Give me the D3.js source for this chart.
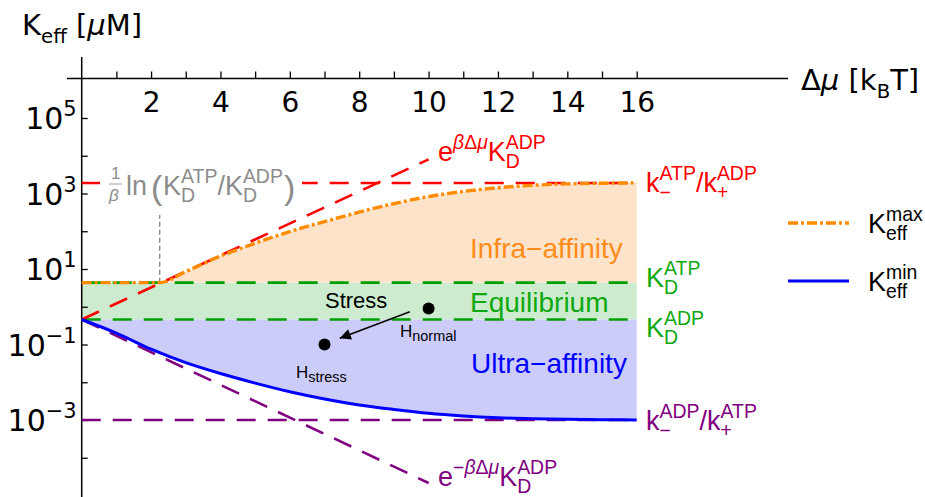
<!DOCTYPE html>
<html>
<head>
<meta charset="utf-8">
<script src="https://cdn.jsdelivr.net/npm/d3@7"></script>
<style>
  body { margin: 0; background: #fff; }
  svg { display: block; }
  text { white-space: pre; }
  .tick line { stroke: #000; stroke-width: 1.3; }
  .domain { display: none; }
</style>
</head>
<body>
<div id="box"></div>
<script>
// Δμ in kBT, K in μM
const xTicksMajor = [2, 4, 6, 8, 10, 12, 14, 16];
const xTicksMinor = [1, 3, 5, 7, 9, 11, 13, 15];
const yTickExp = [-4, -3, -2, -1, 0, 1, 2, 3, 4, 5];
const yLabelExp = [-3, -1, 1, 3, 5];

const KD_ADP = 0.46;
const KD_ATP = 4.35;
const kRatioMax = 1900;   // k-ATP / k+ADP
const kRatioMin = 0.001;  // k-ADP / k+ATP
const dmuKink = 2.25;

const expUp = [[0, 0.46], [10, 8000]];
const expDown = [[0, 0.46], [10, 0.0000215]];

const kmaxDmu = [0, 2.25, 3, 4, 5, 6, 7, 8, 9, 10, 11, 12, 13, 14, 15, 16];
const kmaxVal = [4.35, 4.35, 8.5, 22, 48, 98, 180, 320, 540, 830, 1130, 1420, 1650, 1800, 1870, 1920];

const kminDmu = [0, 1, 2, 3, 4, 5, 6, 7, 8, 9, 10, 11, 12, 13, 14, 15, 16];
const kminVal = [0.46, 0.2, 0.075, 0.033, 0.017, 0.0095, 0.0056, 0.0036, 0.0025, 0.0019, 0.0015, 0.00128, 0.00115, 0.00108, 0.00104, 0.00102, 0.001];

const hPoints = [[10, 0.9], [7, 0.1]];
const arrowPts = [[9.46, 0.74], [7.44, 0.146]];

const W = 925, H = 497;
const svg = d3.select('#box').append('svg').attr('width', W).attr('height', H);

const x = d3.scaleLinear().domain([0, 16]).range([81.7, 636.7]);
const y = d3.scaleLog().domain([1e-5, 1e6]).range([495.5, 80.25]);
const axisY = 78.5;

const C = {
  red: '#ff0000', green: '#00a000', greenText: '#10a810', purple: '#800080',
  orange: '#ff8c00', orangeText: '#ff8c1a', blue: '#0000ff', gray: '#8c8c8c',
  fillO: '#fde3c9', fillG: '#cdeccf', fillB: '#ccccfa'
};

// rich text: parts = {t, i} or {sup:[...], sub:[...]}
function run(g, x0, yb, pieces, size) {
  let cx = x0;
  pieces.forEach(p => {
    const t = g.append('text').attr('x', cx).attr('y', yb)
      .style('font-size', size + 'px').text(p.t);
    if (p.i) t.style('font-style', 'italic');
    cx += t.node().getComputedTextLength();
  });
  return cx - x0;
}
function rich(x0, yb, parts, size, color, family, ratio) {
  ratio = ratio || 0.72;
  const g = svg.append('g').attr('fill', color).style('font-family', family);
  let cx = x0;
  parts.forEach(p => {
    if (p.t !== undefined) {
      cx += run(g, cx, yb, [p], size);
    } else {
      let w = 0;
      if (p.sup) w = Math.max(w, run(g, cx, yb - size * 0.44, p.sup, size * ratio));
      if (p.sub) w = Math.max(w, run(g, cx, yb + size * 0.26, p.sub, size * ratio));
      cx += w;
    }
  });
  return g;
}
const S = s => [{ t: s }];
const HELV = 'Liberation Sans, Arial, sans-serif';
const DJ = 'DejaVu Sans, sans-serif';

// fills
const green = [[0, 0], [16, 0]];
svg.append('path').datum(green)
  .attr('d', d3.area().x(d => x(d[0])).y0(y(KD_ADP)).y1(y(KD_ATP)))
  .attr('fill', C.fillG);

const kmax = kmaxDmu.map((d, i) => [d, kmaxVal[i]]);
svg.append('path').datum(kmax.filter(d => d[0] >= dmuKink))
  .attr('d', d3.area().x(d => x(d[0])).y0(y(KD_ATP)).y1(d => y(d[1])).curve(d3.curveMonotoneX))
  .attr('fill', C.fillO);

const kmin = kminDmu.map((d, i) => [d, kminVal[i]]);
svg.append('path').datum(kmin)
  .attr('d', d3.area().x(d => x(d[0])).y0(y(KD_ADP)).y1(d => y(d[1])).curve(d3.curveMonotoneX))
  .attr('fill', C.fillB);

// axes
const xAxis = d3.axisBottom(x).tickValues(xTicksMajor.concat(xTicksMinor))
  .tickSize(-7).tickPadding(14)
  .tickFormat(d => xTicksMajor.includes(d) ? d : '');
const gx = svg.append('g').attr('transform', `translate(0,${axisY})`).call(xAxis);
gx.selectAll('text').style('font-family', DJ).style('font-size', '28px').attr('fill', '#000');
svg.append('line').attr('x1', 67).attr('x2', 788).attr('y1', axisY).attr('y2', axisY)
  .attr('stroke', '#000').attr('stroke-width', 1.5);

const yAxis = d3.axisLeft(y).tickValues(yTickExp.map(e => Math.pow(10, e)))
  .tickSize(-6).tickFormat('');
svg.append('g').attr('transform', `translate(${x(0)},0)`).call(yAxis);
svg.append('line').attr('x1', x(0)).attr('x2', x(0)).attr('y1', 57).attr('y2', H)
  .attr('stroke', '#000').attr('stroke-width', 1.5);
yLabelExp.forEach(e => {
  const yy = y(Math.pow(10, e)) + 11;
  const g = svg.append('g').style('font-family', DJ).attr('fill', '#000');
  const w1 = run(g, 0, yy, S('10'), 30);
  const sup = e < 0 ? '\u2212' + Math.abs(e) : String(e);
  const w2 = run(g, w1, yy - 13, S(sup), 21);
  g.attr('transform', `translate(${x(0) - 5 - w1 - w2},0)`);
});

// axis titles
rich(22, 35, [{ t: 'K' }, { sub: S('eff') }, { t: ' [' }, { t: 'μ', i: true }, { t: 'M]' }], 29, '#000', DJ, 0.68);
rich(801, 90, [{ t: 'Δ' }, { t: 'μ', i: true }, { t: ' [k' }, { sub: S('B') }, { t: 'T]' }], 29, '#000', DJ, 0.68);

// reference lines
const hline = (v, col) => svg.append('path')
  .datum([[0, v], [16, v]])
  .attr('d', d3.line().x(d => x(d[0])).y(d => y(d[1])))
  .attr('fill', 'none').attr('stroke', col).attr('stroke-width', 2.6)
  .attr('stroke-dasharray', '19,12');
hline(KD_ATP, C.green);
hline(KD_ADP, C.green);
hline(kRatioMin, C.purple);
hline(kRatioMax, C.red);

const lineF = d3.line().x(d => x(d[0])).y(d => y(d[1]));
svg.append('path').datum(expUp).attr('d', lineF)
  .attr('fill', 'none').attr('stroke', C.red).attr('stroke-width', 2.6).attr('stroke-dasharray', '19,12');
svg.append('path').datum(expDown).attr('d', lineF)
  .attr('fill', 'none').attr('stroke', C.purple).attr('stroke-width', 2.6).attr('stroke-dasharray', '19,12');

// vertical marker at kink
svg.append('line').attr('x1', x(dmuKink)).attr('x2', x(dmuKink))
  .attr('y1', y(KD_ATP)).attr('y2', 215)
  .attr('stroke', '#777').attr('stroke-width', 1.2).attr('stroke-dasharray', '5,3');

// Keff curves
svg.append('path').datum(kmax)
  .attr('d', d3.line().x(d => x(d[0])).y(d => y(d[1])).curve(d3.curveMonotoneX))
  .attr('fill', 'none').attr('stroke', C.orange).attr('stroke-width', 3.4)
  .attr('stroke-dasharray', '10,3,3,3');
svg.append('path').datum(kmin)
  .attr('d', d3.line().x(d => x(d[0])).y(d => y(d[1])).curve(d3.curveMonotoneX))
  .attr('fill', 'none').attr('stroke', C.blue).attr('stroke-width', 3);

// gray formula label with white backing
svg.append('rect').attr('x', 100).attr('y', 160).attr('width', 202).attr('height', 45).attr('fill', '#fff');
const gf = svg.append('g').attr('fill', C.gray).style('font-family', HELV);
run(gf, 111, 179, S('1'), 17);
run(gf, 109, 201, [{ t: 'β', i: true }], 17);
svg.append('line').attr('x1', 109).attr('x2', 122).attr('y1', 184).attr('y2', 184)
  .attr('stroke', C.gray).attr('stroke-width', 0.8);
rich(126, 195, [{ t: 'ln' }], 27, C.gray, HELV);
const gp = svg.append('g').attr('fill', C.gray).style('font-family', HELV);
run(gp, 151, 199, S('('), 34);
rich(163, 195, [{ t: 'K' }, { sup: S('ATP'), sub: S('D') }, { t: '/K' }, { sup: S('ADP'), sub: S('D') }], 27, C.gray, HELV);
run(gp, 284, 199, S(')'), 34);

// right-side labels
rich(438, 161, [{ t: 'e' }, { sup: [{ t: 'β', i: true }, { t: 'Δ' }, { t: 'μ', i: true }] }, { t: 'K' }, { sup: S('ADP'), sub: S('D') }], 27, C.red, HELV);
rich(438, 486, [{ t: 'e' }, { sup: [{ t: '\u2212' }, { t: 'β', i: true }, { t: 'Δ' }, { t: 'μ', i: true }] }, { t: 'K' }, { sup: S('ADP'), sub: S('D') }], 27, C.purple, HELV);
rich(646, 192, [{ t: 'k' }, { sup: S('ATP'), sub: S('\u2212') }, { t: '/k' }, { sup: S('ADP'), sub: S('+') }], 27, C.red, HELV);
rich(646, 287, [{ t: 'K' }, { sup: S('ATP'), sub: S('D') }], 27, C.greenText, HELV);
rich(646, 337, [{ t: 'K' }, { sup: S('ADP'), sub: S('D') }], 27, C.greenText, HELV);
rich(646, 430, [{ t: 'k' }, { sup: S('ADP'), sub: S('\u2212') }, { t: '/k' }, { sup: S('ATP'), sub: S('+') }], 27, C.purple, HELV);

// region labels
rich(470, 258, S('Infra\u2212affinity'), 28, C.orangeText, HELV);
rich(470, 312, S('Equilibrium'), 28, C.greenText, HELV);
rich(471, 373, S('Ultra\u2212affinity'), 28, C.blue, HELV);

// stress points and arrow
svg.append('defs').append('marker').attr('id', 'ah')
  .attr('viewBox', '0 0 10 10').attr('refX', 10).attr('refY', 5)
  .attr('markerWidth', 14).attr('markerHeight', 11).attr('markerUnits', 'userSpaceOnUse')
  .attr('orient', 'auto')
  .append('path').attr('d', 'M0,0 L10,5 L0,10 z').attr('fill', '#000');
svg.append('line')
  .attr('x1', x(arrowPts[0][0])).attr('y1', y(arrowPts[0][1]))
  .attr('x2', x(arrowPts[1][0])).attr('y2', y(arrowPts[1][1]))
  .attr('stroke', '#000').attr('stroke-width', 1.6).attr('marker-end', 'url(#ah)');
svg.selectAll('circle.h').data(hPoints).join('circle').attr('class', 'h')
  .attr('cx', d => x(d[0])).attr('cy', d => y(d[1])).attr('r', 6).attr('fill', '#000');
rich(325, 308, S('Stress'), 22, '#000', HELV);
rich(400, 337, [{ t: 'H' }, { sub: S('normal') }], 17, '#000', HELV, 0.85);
rich(296, 378, [{ t: 'H' }, { sub: S('stress') }], 17, '#000', HELV, 0.85);

// legend
const lg = [[C.orange, '10,3,3,3', 3.4, 'max', 223], [C.blue, null, 3, 'min', 281]];
lg.forEach(d => {
  svg.append('line').attr('x1', 788).attr('x2', 849).attr('y1', d[4]).attr('y2', d[4])
    .attr('stroke', d[0]).attr('stroke-width', d[2]).attr('stroke-dasharray', d[1]);
  rich(868, d[4] + 10, [{ t: 'K' }, { sup: S(d[3]), sub: S('eff') }], 27, '#000', HELV);
});
</script>
</body>
</html>
